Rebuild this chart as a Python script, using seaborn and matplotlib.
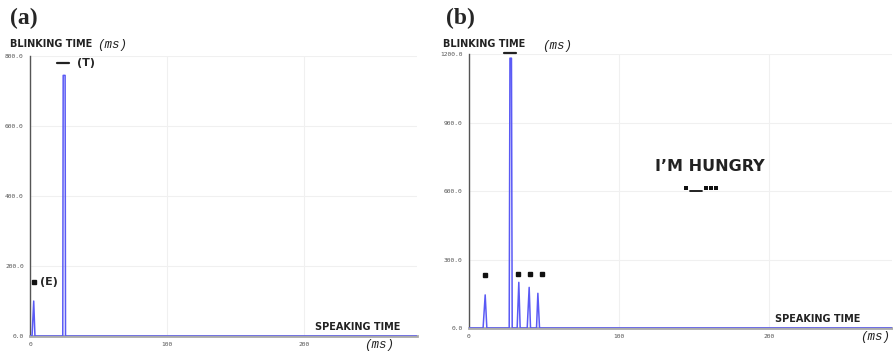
import pandas as pd
import seaborn as sns
import matplotlib.pyplot as plt

# panel (a): speaking time (ms) vs blinking time (ms)
a_time = [0, 1.5, 2.7, 3.6, 17, 18, 23.9, 24.2, 25.6, 25.9, 29, 30, 282]
a_blink = [0, 0, 100, 0, 0, 0, 0, 745, 745, 0, 0, 0, 0]

# panel (b)
b_time = [0, 9.5, 10.9, 12, 26.9, 27.4, 28.4, 28.9, 32.2, 33.3, 34.2,
          38.9, 40.2, 41.1, 45.1, 46, 47.1, 282]
b_blink = [0, 0, 145, 0, 0, 1182, 1182, 0, 0, 200, 0,
           0, 178, 0, 0, 152, 0, 0]

# morse marks: dots (x, y) and dashes (x0, x1, y)
a_dots = [(3, 154)]
a_dashes = [(19.7, 28.5, 780)]
b_dots = [(11, 232), (32.5, 236), (40.5, 236), (49, 236)]
b_dashes = [(23.5, 31.5, 1203)]

a_yticks = [0, 200, 400, 600, 800]
b_yticks = [0, 300, 600, 900, 1200]
x_ticks = [0, 100, 200]

sns.set_style("white")
plt.rcParams['font.family'] = ['DejaVu Sans']

fig = plt.figure(figsize=(8.93, 3.53), dpi=100)
ax_a = fig.add_axes([0.0336, 0.048, 0.433, 0.793])
ax_b = fig.add_axes([0.525, 0.0708, 0.474, 0.776])

df_a = pd.DataFrame({'t': a_time, 'b': a_blink})
df_b = pd.DataFrame({'t': b_time, 'b': b_blink})

for ax, df, yt, ymax, dots, dashes in [
        (ax_a, df_a, a_yticks, 800, a_dots, a_dashes),
        (ax_b, df_b, b_yticks, 1200, b_dots, b_dashes)]:
    sns.lineplot(data=df, x='t', y='b', ax=ax, sort=False, estimator=None,
                 color='#5a5af5', lw=1.1, zorder=3)
    ax.set_xlim(0, 282)
    ax.set_ylim(0, ymax)
    ax.set_yticks(yt)
    ax.set_yticklabels([f'{v:.1f}' for v in yt])
    ax.set_xticks(x_ticks)
    ax.set_xticklabels([str(v) for v in x_ticks])
    ax.grid(True, color='#f0f0f0', lw=0.8)
    ax.set_axisbelow(True)
    for s in ['top', 'right']:
        ax.spines[s].set_visible(False)
    ax.spines['left'].set_color('#555555')
    ax.spines['left'].set_linewidth(1.0)
    ax.spines['bottom'].set_color('#aaaaaa')
    ax.spines['bottom'].set_linewidth(2.0)
    ax.tick_params(axis='y', direction='inout', length=5, width=0.6,
                   color='#555555', labelsize=4.5, labelcolor='#555555', pad=2)
    ax.tick_params(axis='x', direction='inout', length=4, width=0.6,
                   color='#aaaaaa', labelsize=4.5, labelcolor='#555555', pad=2)
    for lab in ax.get_xticklabels() + ax.get_yticklabels():
        lab.set_family('DejaVu Sans Mono')
    ax.set_xlabel('')
    ax.set_ylabel('')
    for x, y in dots:
        ax.plot([x], [y], marker='s', ms=3, color='#111111', clip_on=False, zorder=4)
    for x0, x1, y in dashes:
        ax.plot([x0, x1], [y, y], color='#222222', lw=1.6, clip_on=False, zorder=4)

# text annotations
ax_a.text(7, 154, '(E)', fontsize=8, fontweight='bold', va='center', ha='left')
ax_a.text(34, 780, '(T)', fontsize=8, fontweight='bold', va='center', ha='left')
ax_b.text(0.570, 0.588, 'I\u2019M HUNGRY', transform=ax_b.transAxes, fontsize=11.5,
          fontweight='bold', ha='center', va='center', color='#222222')
# morse code sketch under the phrase: . _ . . .
for xf in [0.513, 0.560, 0.572, 0.584]:
    ax_b.plot([xf], [0.511], marker='s', ms=2.7, mew=0, color='#111111',
              transform=ax_b.transAxes, clip_on=False)
ax_b.plot([0.522, 0.551], [0.500, 0.500], color='#111111', lw=1.3,
          transform=ax_b.transAxes, clip_on=False)

# axis titles
title_kw = dict(fontsize=7, fontweight='bold', va='center', ha='left', color='#222222')
ms_kw = dict(fontsize=9, style='italic', family='Liberation Mono', va='center',
             ha='left', color='#222222')
fig.text(10 / 893, 1 - 44 / 353, 'BLINKING TIME', **title_kw)
fig.text(97 / 893, 1 - 45 / 353, '(ms)', **ms_kw)
fig.text(443 / 893, 1 - 44 / 353, 'BLINKING TIME', **title_kw)
fig.text(542 / 893, 1 - 46 / 353, '(ms)', **ms_kw)
fig.text(315 / 893, 1 - 327 / 353, 'SPEAKING TIME', **title_kw)
fig.text(364 / 893, 1 - 345 / 353, '(ms)', **ms_kw)
fig.text(775 / 893, 1 - 319 / 353, 'SPEAKING TIME', **title_kw)
fig.text(860 / 893, 1 - 337 / 353, '(ms)', **ms_kw)

# panel labels
fig.text(10 / 893, 1 - 18 / 353, '(a)', fontsize=17, fontweight='bold',
         family='Liberation Serif', va='center', ha='left')
fig.text(446 / 893, 1 - 18 / 353, '(b)', fontsize=17, fontweight='bold',
         family='Liberation Serif', va='center', ha='left')

fig.savefig('out.png', dpi=100)
